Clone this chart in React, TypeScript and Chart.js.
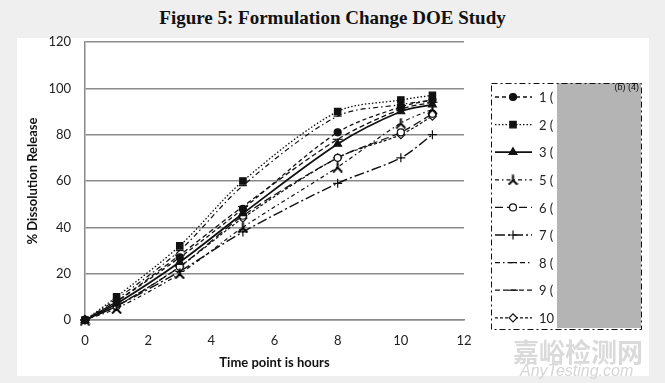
import React, { useEffect, useRef } from 'react';
import { Chart, registerables } from 'chart.js';
import { drawPoint } from 'chart.js/helpers';

Chart.register(...registerables);

const timePoints = [0, 1, 3, 5, 8, 10, 11];
const seriesLabels = ['1 (', '2 (', '3 (', '5 (', '6 (', '7 (', '8 (', '9 (', '10 ('];
const series1 = [0, 8, 27, 48, 81, 92, 95];
const series2 = [0, 10, 32, 60, 90, 95, 97];
const series3 = [0, 7, 25, 46, 76, 90, 93];
const series5 = [0, 5, 20, 40, 66, 85, 91];
const series6 = [0, 6, 23, 45, 70, 81, 89];
const series7 = [0, 6, 21, 38, 59, 70, 80];
const series8 = [0, 9, 30, 58, 88, 93, 95];
const series9 = [0, 8, 28, 49, 78, 91, 94];
const series10 = [0, 6, 23, 44, 70, 80, 88];
const allSeries = [series1, series2, series3, series5, series6, series7, series8, series9, series10];

const chartTitle = 'Figure 5: Formulation Change DOE Study';
const xTitle = 'Time point is hours';
const yTitle = '% Dissolution Release';
const redaction = '(b) (4)';

function triStar(): HTMLCanvasElement {
  const c = document.createElement('canvas');
  c.width = 11;
  c.height = 11;
  const g = c.getContext('2d')!;
  g.strokeStyle = '#000';
  g.lineWidth = 2;
  g.beginPath();
  g.moveTo(5.5, 6); g.lineTo(5.5, 0.5);
  g.moveTo(5.5, 6); g.lineTo(1, 10.5);
  g.moveTo(5.5, 6); g.lineTo(10, 10.5);
  g.stroke();
  return c;
}

type Style = {
  dash: number[];
  width: number;
  point: any;
  radius: number;
  fill: string;
};

const styles: Style[] = [
  { dash: [4, 3], width: 1.3, point: 'circle', radius: 3.5, fill: '#111' },
  { dash: [1.5, 2], width: 1.3, point: 'rect', radius: 4.5, fill: '#111' },
  { dash: [], width: 1.8, point: 'triangle', radius: 4.5, fill: '#111' },
  { dash: [4, 3, 1.5, 3], width: 1.2, point: 'star5', radius: 5, fill: '#111' },
  { dash: [8, 4], width: 1.3, point: 'circle', radius: 3.5, fill: '#fff' },
  { dash: [10, 3, 2, 3], width: 1.4, point: 'cross', radius: 4.5, fill: '#111' },
  { dash: [5, 3, 1.5, 3], width: 1.2, point: 'line', radius: 4, fill: '#111' },
  { dash: [5, 3], width: 1.3, point: 'line', radius: 5, fill: '#111' },
  { dash: [3, 2], width: 1.2, point: 'rectRot', radius: 4, fill: '#fff' },
];

export default function App() {
  const ref = useRef<HTMLCanvasElement>(null);

  useEffect(() => {
    if (!ref.current) return;
    const star = triStar();
    const resolvePoint = (p: any) => (p === 'star5' ? star : p);

    const legendPlugin = {
      id: 'customLegend',
      afterDraw(chart: any) {
        const ctx = chart.ctx as CanvasRenderingContext2D;
        ctx.save();
        const x0 = 491.5, y0 = 83.5, w = 150, h = 246;
        const itemY0 = 97, itemStep = 27.6;
        chart.data.datasets.forEach((ds: any, i: number) => {
          const st = styles[i];
          const y = itemY0 + i * itemStep;
          ctx.strokeStyle = '#111';
          ctx.lineWidth = st.width;
          ctx.setLineDash(st.dash);
          ctx.beginPath();
          ctx.moveTo(495, y);
          ctx.lineTo(532, y);
          ctx.stroke();
          ctx.setLineDash([]);
          ctx.fillStyle = st.fill;
          ctx.strokeStyle = '#111';
          ctx.lineWidth = 1.2;
          drawPoint(ctx, { pointStyle: resolvePoint(st.point), radius: st.radius, rotation: 0, borderWidth: 1.2 } as any, 513, y);
          ctx.fillStyle = '#222';
          ctx.font = '13px Lato';
          ctx.textAlign = 'left';
          ctx.textBaseline = 'middle';
          ctx.fillText(ds.label, 539, y + 1);
        });
        ctx.fillStyle = '#b4b4b4';
        ctx.fillRect(557, 83, 84, 245);
        ctx.fillStyle = '#111';
        ctx.font = '9px "Liberation Sans"';
        ctx.textAlign = 'right';
        ctx.textBaseline = 'middle';
        ctx.fillText(redaction, 639, 88);
        ctx.strokeStyle = '#111';
        ctx.lineWidth = 1;
        ctx.setLineDash([6, 3, 2, 3]);
        ctx.strokeRect(x0, y0, w, h);
        ctx.restore();
      },
    };

    const chart = new Chart(ref.current, {
      type: 'line',
      data: {
        datasets: allSeries.map((vals, i) => ({
          label: seriesLabels[i],
          data: timePoints.map((t, j) => ({ x: t, y: vals[j] })),
          borderColor: '#111',
          backgroundColor: styles[i].fill,
          borderWidth: styles[i].width,
          borderDash: styles[i].dash,
          pointStyle: resolvePoint(styles[i].point),
          pointRadius: styles[i].radius,
          pointBorderColor: '#111',
          pointBackgroundColor: styles[i].fill,
          pointBorderWidth: 1.2,
          tension: 0.3,
          fill: false,
          clip: false,
        })),
      },
      options: {
        animation: false,
        responsive: false,
        layout: { padding: { left: 0, top: 42, right: 201, bottom: 0 } },
        plugins: {
          legend: { display: false },
          tooltip: { enabled: false },
          title: { display: false },
        },
        scales: {
          x: {
            type: 'linear',
            min: 0,
            max: 12,
            ticks: { stepSize: 2, padding: 13, color: '#222', font: { family: 'Lato', size: 13 } },
            grid: { display: false, drawTicks: false },
            border: { display: true, color: '#8a8a8a', width: 1.5 },
            title: {
              display: true,
              text: xTitle,
              color: '#111',
              font: { family: 'Lato', size: 13, weight: 'bold' },
              padding: { top: 0, bottom: 12 },
            },
            afterFit: (s: any) => { s.height = 63; },
          },
          y: {
            min: 0,
            max: 120,
            ticks: { stepSize: 20, padding: 14, color: '#222', font: { family: 'Lato', size: 13 } },
            grid: { color: '#8a8a8a', lineWidth: 1.5, drawTicks: false },
            border: { display: true, color: '#8a8a8a', width: 1.5 },
            title: {
              display: true,
              text: yTitle,
              color: '#111',
              font: { family: 'Lato', size: 13, weight: 'bold' },
              padding: { top: 25, bottom: 0 },
            },
            afterFit: (s: any) => { s.width = 85; },
          },
        },
      },
      plugins: [legendPlugin],
    } as any);
    return () => chart.destroy();
  }, []);

  return (
    <div style={{ position: 'fixed', left: 0, top: 0, width: 665, height: 383, background: '#efefef', overflow: 'hidden' }}>
      <div style={{ position: 'absolute', left: 17, top: 38, width: 632, height: 338, background: '#fff' }} />
      <div
        style={{
          position: 'absolute', left: 0, top: 6, width: 665, textAlign: 'center',
          fontFamily: '"Liberation Serif", serif', fontWeight: 'bold', fontSize: 19, color: '#111', lineHeight: '24px',
        }}
      >
        {chartTitle}
      </div>
      <canvas ref={ref} width={665} height={383} style={{ position: 'absolute', left: 0, top: 0, width: 665, height: 383 }} />
      <div
        style={{
          position: 'absolute', left: 513, top: 336, fontFamily: '"Noto Sans CJK SC"', fontWeight: 'bold',
          fontSize: 26, color: '#dadada', lineHeight: '30px', letterSpacing: 0,
        }}
      >
        嘉峪检测网
      </div>
      <div
        style={{
          position: 'absolute', left: 520, top: 362, fontFamily: '"Liberation Sans"', fontStyle: 'italic',
          fontSize: 16, color: '#d6d6d6', lineHeight: '18px',
        }}
      >
        AnyTesting.com
      </div>
    </div>
  );
}
